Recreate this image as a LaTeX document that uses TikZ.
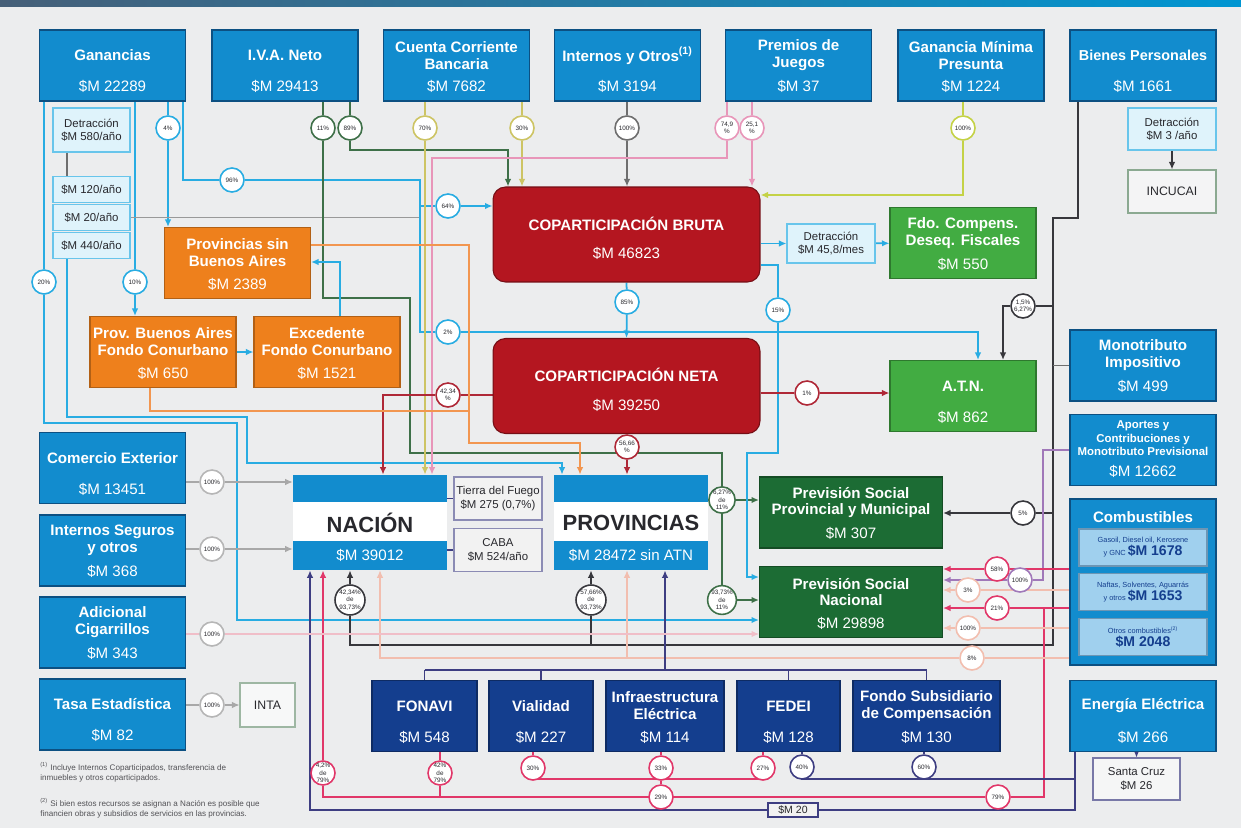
\documentclass[tikz,border=0pt]{standalone}
\usepackage{fontspec}
\setmainfont{Liberation Sans}
\usetikzlibrary{calc, positioning, arrows.meta, backgrounds}

\definecolor{srcblue}{RGB}{18,140,206}
\definecolor{srcedge}{RGB}{12,80,130}
\definecolor{subblue}{RGB}{160,208,238}
\definecolor{cobred}{RGB}{180,22,32}
\definecolor{fondor}{RGB}{238,128,28}
\definecolor{ltgreen}{RGB}{66,172,66}
\definecolor{dkgreen}{RGB}{28,108,52}
\definecolor{navy}{RGB}{20,62,142}
\definecolor{bg}{RGB}{236,237,238}
\definecolor{lnblue}{RGB}{40,172,226}
\definecolor{lngreen}{RGB}{62,112,72}
\definecolor{lnkhaki}{RGB}{205,196,100}
\definecolor{lnpink}{RGB}{232,150,185}
\definecolor{lngray}{RGB}{110,110,110}
\definecolor{lnlime}{RGB}{196,210,70}
\definecolor{lnred}{RGB}{175,40,55}
\definecolor{lnorange}{RGB}{242,150,80}
\definecolor{lndark}{RGB}{55,55,60}
\definecolor{lnmag}{RGB}{225,55,105}
\definecolor{lnlav}{RGB}{160,120,185}
\definecolor{lnnavy}{RGB}{62,62,130}
\definecolor{lnpeach}{RGB}{242,190,175}
\definecolor{lnrose}{RGB}{240,190,200}
\definecolor{txtdark}{RGB}{40,40,45}
\definecolor{hdrA}{RGB}{70,95,120}
\definecolor{hdrB}{RGB}{0,150,210}

\newcommand{\fsz}[2]{\fontsize{#1}{#2}\selectfont}

\begin{document}
\begin{tikzpicture}[x=0.02cm, y=-0.02cm,
    >={Latex[length=1.5mm, width=1.3mm]},
    basebox/.style={rectangle, minimum width=29.2mm, minimum height=14.2mm, inner sep=0pt, line width=0.6pt},
    src/.style ={basebox, fill=srcblue, draw=srcedge},
    cobox/.style={basebox, fill=cobred, draw=cobred!65!black, rounded corners=2.5mm, minimum width=53.4mm, minimum height=19mm},
    orng/.style={basebox, fill=fondor, draw=fondor!75!black},
    grn/.style ={basebox, fill=ltgreen, draw=ltgreen!70!black},
    dgrn/.style={basebox, fill=dkgreen, draw=dkgreen!70!black, minimum width=36.6mm},
    nvy/.style ={basebox, fill=navy, draw=navy!70!black, minimum width=21mm},
    flag/.style={rectangle, fill=white, minimum width=30.8mm, minimum height=19mm, inner sep=0pt,
      font=\bfseries\fsz{12.5}{13}, text=txtdark,
      path picture={
        \fill[srcblue] (path picture bounding box.north west) rectangle ([yshift=-5.4mm]path picture bounding box.north east);
        \fill[srcblue] (path picture bounding box.south west) rectangle ([yshift=5.8mm]path picture bounding box.south east);}},
    sub/.style ={rectangle, fill=subblue, draw=srcedge!60, line width=0.6pt, minimum width=25.6mm, minimum height=7.4mm,
      inner sep=0pt, text=navy, align=center, font=\fsz{4.2}{5}},
    note/.style={rectangle, draw=lnblue!70, fill=white!85!lnblue, line width=0.6pt, text=txtdark, font=\fsz{6.5}{7.6},
      align=center, minimum width=17.6mm, minimum height=8.6mm, inner sep=0pt},
    foot/.style={anchor=north west, text=txtdark!80, font=\fsz{4.6}{6.2}, align=left, inner sep=0pt},
    ttl/.style ={anchor=center, yshift=-5.2mm, text=white, font=\bfseries\fsz{8.6}{9.6}, align=center},
    amt/.style ={anchor=center, yshift=3mm, text=white, font=\fsz{8.6}{9.6}},
    pct/.style ={circle, draw=#1, fill=white, line width=0.9pt, minimum size=4.8mm, inner sep=0pt,
      font=\fsz{3.6}{4.2}, text=txtdark, align=center},
    ln/.style  ={draw=#1, line width=1pt},
    fine/.style={draw=#1, line width=0.6pt}
  ]
  \useasboundingbox (0,0) rectangle (1241,828);

  % sources, top row
  \node[src, label={[ttl]above:Ganancias}, label={[amt]below:\$M 22289}] (gan) at (112.5,65.5) {};
  \node[src, label={[ttl]above:I.V.A. Neto}, label={[amt]below:\$M 29413}] (iva) at (285,65.5) {};
  \node[src, label={[ttl]above:{Cuenta Corriente\\Bancaria}}, label={[amt]below:\$M 7682}] (ccb) at (456.5,65.5) {};
  \node[src, label={[ttl]above:{Internos y Otros\textsuperscript{(1)}}}, label={[amt]below:\$M 3194}] (int) at (627.5,65.5) {};
  \node[src, label={[ttl]above:{Premios de\\Juegos}}, label={[amt]below:\$M 37}] (pre) at (798.5,65.5) {};
  \node[src, label={[ttl]above:{Ganancia Mínima\\Presunta}}, label={[amt]below:\$M 1224}] (gmp) at (971,65.5) {};
  \node[src, label={[ttl, font=\bfseries\fsz{8.2}{9.6}]above:Bienes Personales}, label={[amt]below:\$M 1661}] (bie) at (1143,65.5) {};

  % detracciones de Ganancias
  \node[note, minimum width=15.4mm, minimum height=8.8mm] (d580) at (91.5,130) {Detracción\\\$M 580/año};
  \node[note, minimum width=15.4mm, minimum height=5.2mm, line width=1pt] (d120) at (91.5,189.5) {\$M 120/año};
  \node[note, minimum width=15.4mm, minimum height=5.2mm, line width=1pt] (d20) at (91.5,217.5) {\$M 20/año};
  \node[note, minimum width=15.4mm, minimum height=5.2mm, line width=1pt] (d440) at (91.5,245.5) {\$M 440/año};

  % fondos naranja
  \node[orng, label={[ttl]above:{Provincias sin\\Buenos Aires}}, label={[amt]below:\$M 2389}] (psb) at (237.5,263) {};
  \node[orng, label={[ttl]above:{Prov. Buenos Aires\\Fondo Conurbano}}, label={[amt]below:\$M 650}] (pba) at (163,352) {};
  \node[orng, label={[ttl]above:{Excedente\\Fondo Conurbano}}, label={[amt]below:\$M 1521}] (exc) at (327,352) {};

  % coparticipacion
  \node[cobox, label={[ttl, yshift=-2.2mm]above:COPARTICIPACIÓN BRUTA}, label={[amt, yshift=2.8mm]below:\$M 46823}] (cb) at (626.5,234.5) {};
  \node[cobox, label={[ttl, yshift=-2.2mm]above:COPARTICIPACIÓN NETA}, label={[amt, yshift=2.8mm]below:\$M 39250}] (cn) at (626.5,386) {};
  \node[note, minimum height=7.8mm] (dcb) at (831,243.5) {Detracción\\\$M 45,8/mes};
  \node[grn, label={[ttl]above:{Fdo. Compens.\\Deseq. Fiscales}}, label={[amt]below:\$M 550}] (fdo) at (963,243) {};
  \node[grn, label={[ttl]above:A.T.N.}, label={[amt]below:\$M 862}] (atn) at (963,396) {};
  \node[note, minimum height=8.4mm] (dbp) at (1172,129) {Detracción\\\$M 3 /año};
  \node[note, draw=lngreen!60, fill=bg!60!white, font=\fsz{7}{8}] (incucai) at (1172,191.5) {INCUCAI};

  % right column
  \node[src, label={[ttl]above:{Monotributo\\Impositivo}}, label={[amt]below:\$M 499}] (mono) at (1143,365.5) {};
  \node[src, label={[ttl, yshift=0.3mm, font=\bfseries\fsz{6.5}{7.6}]above:{Aportes y\\Contribuciones y\\Monotributo Previsional}},
    label={[amt]below:\$M 12662}] (apor) at (1143,450) {};
  \node[src, minimum height=33.2mm, label={[ttl, yshift=1.4mm]above:Combustibles}] (comb) at (1143,582) {};
  \node[sub] (gas) at (1143,547.5) {Gasoil, Diesel oil, Kerosene\\y GNC {\bfseries\fsz{8}{8}\$M 1678}};
  \node[sub] (naf) at (1143,592) {Naftas, Solventes, Aguarrás\\y otros {\bfseries\fsz{8}{8}\$M 1653}};
  \node[sub] (otc) at (1143,637) {Otros combustibles\textsuperscript{(2)}\\{\bfseries\fsz{8}{8}\$M 2048}};
  \node[src, label={[ttl]above:Energía Eléctrica}, label={[amt]below:\$M 266}] (ene) at (1143,716) {};
  \node[note, draw=lnnavy!70, fill=bg!50!white, minimum width=17.4mm, minimum height=8.4mm] (scz) at (1136.5,779) {Santa Cruz\\\$M 26};

  % left column
  \node[src, label={[ttl]above:Comercio Exterior}, label={[amt]below:\$M 13451}] (com) at (112.5,468) {};
  \node[src, label={[ttl]above:{Internos Seguros\\y otros}}, label={[amt]below:\$M 368}] (ins) at (112.5,550.5) {};
  \node[src, label={[ttl]above:{Adicional\\Cigarrillos}}, label={[amt]below:\$M 343}] (cig) at (112.5,632.5) {};
  \node[src, label={[ttl]above:Tasa Estadística}, label={[amt]below:\$M 82}] (tas) at (112.5,714.5) {};
  \node[note, draw=lngreen!50, fill=bg!40!white, minimum width=11mm, minimum height=8.8mm, font=\fsz{7}{8}] (inta) at (267.5,705) {INTA};

  % destinos
  \node[flag, label={[amt]below:\$M 39012}] (nac) at (370,522.5) {NACIÓN};
  \node[flag, label={[amt]below:\$M 28472 sin ATN}] (prov) at (631,522.5) {PROVINCIAS};
  \node[note, draw=lnnavy!60, fill=white!90!gray] (tdf) at (498,498.5) {Tierra del Fuego\\\$M 275 (0,7\%)};
  \node[note, draw=lnnavy!60, fill=white!90!gray] (caba) at (498,550) {CABA\\\$M 524/año};
  \node[dgrn, label={[ttl]above:{Previsión Social\\Provincial y Municipal}}, label={[amt]below:\$M 307}] (pspm) at (851,512.5) {};
  \node[dgrn, label={[ttl]above:{Previsión Social\\Nacional}}, label={[amt]below:\$M 29898}] (psn) at (851,602) {};

  % fondos especificos
  \node[nvy, label={[ttl]above:FONAVI}, label={[amt]below:\$M 548}] (fon) at (424.5,716) {};
  \node[nvy, minimum width=20.8mm, label={[ttl]above:Vialidad}, label={[amt]below:\$M 227}] (via) at (541,716) {};
  \node[nvy, minimum width=23.6mm, label={[ttl]above:{Infraestructura\\Eléctrica}}, label={[amt]below:\$M 114}] (inf) at (665,716) {};
  \node[nvy, minimum width=20.6mm, label={[ttl]above:FEDEI}, label={[amt]below:\$M 128}] (fed) at (788.5,716) {};
  \node[nvy, minimum width=29.4mm, label={[ttl]above:{Fondo Subsidiario\\de Compensación}}, label={[amt]below:\$M 130}] (fsc) at (926.5,716) {};
  \node[note, draw=lnnavy, fill=white!90!gray, minimum width=10mm, minimum height=2.8mm, font=\fsz{6}{6}] (m20) at (793,810) {\$M 20};

  \node[foot] (fn1) at (40,762) {\textsuperscript{(1)} Incluye Internos Coparticipados, transferencia de\\inmuebles y otros coparticipados.};
  \node[foot] (fn2) at (40,798) {\textsuperscript{(2)} Si bien estos recursos se asignan a Nación es posible que\\financien obras y subsidios de servicios en las provincias.};

  % porcentajes
  \node[pct=lnblue] (g20) at (44,282) {20\%};
  \node[pct=lnblue] (g10) at (135,282) {10\%};
  \node[pct=lnblue] (g4) at (168,128) {4\%};
  \node[pct=lnblue] (g96) at (232,180) {96\%};
  \node[pct=lnblue] (g64) at (448,206) {64\%};
  \node[pct=lnblue] (g2) at (448,332) {2\%};
  \node[pct=lngreen] (i11) at (323,128) {11\%};
  \node[pct=lngreen] (i89) at (350,128) {89\%};
  \node[pct=lnkhaki] (c70) at (425,128) {70\%};
  \node[pct=lnkhaki] (c30) at (522,128) {30\%};
  \node[pct=lngray] (i100) at (627,128) {100\%};
  \node[pct=lnpink] (p1) at (727,128) {74,9\\\%};
  \node[pct=lnpink] (p2) at (752,128) {25,1\\\%};
  \node[pct=lnlime] (m100) at (963,128) {100\%};
  \node[pct=lnblue] (c85) at (627,302) {85\%};
  \node[pct=lnblue] (c15) at (778,310) {15\%};
  \node[pct=lnred] (n1) at (807,393) {1\%};
  \node[pct=lnred] (nn) at (448,395) {42,34\\\%};
  \node[pct=lnred] (np) at (627,447) {56,66\\\%};
  \node[pct=lngreen] (ia) at (722,500) {6,27\%\\de\\11\%};
  \node[pct=lngreen] (ib) at (722,600) {93,73\%\\de\\11\%};
  \node[pct=lndark] (bat) at (1023,306) {1,5\%\\6,27\%};
  \node[pct=lndark] (bps) at (1023,513) {5\%};
  \node[pct=lndark, minimum size=6mm] (b1) at (350,600) {42,34\%\\de\\93,73\%};
  \node[pct=lndark, minimum size=6mm] (b2) at (591,600) {57,66\%\\de\\93,73\%};
  \node[pct=lnlav] (apc) at (1020,580) {100\%};
  \node[pct=lnmag] (cgas) at (997,569) {58\%};
  \node[pct=lnmag] (cnaf) at (997,608) {21\%};
  \node[pct=lnmag] (c79) at (998,797) {79\%};
  \node[pct=lnmag] (cnac) at (323,773) {4,2\%\\de\\79\%};
  \node[pct=lnmag] (cfon) at (440,773) {42\%\\de\\79\%};
  \node[pct=lnmag] (cvia) at (533,768) {30\%};
  \node[pct=lnmag] (cinf) at (661,768) {33\%};
  \node[pct=lnmag] (cinf2) at (661,797) {29\%};
  \node[pct=lnmag] (cfed) at (763,768) {27\%};
  \node[pct=lnnavy] (cfed2) at (802,767) {40\%};
  \node[pct=lnnavy] (cfsc) at (924,767) {60\%};
  \node[pct=lnpeach] (o1) at (968,590) {3\%};
  \node[pct=lnpeach] (o2) at (968,628) {100\%};
  \node[pct=lnpeach] (o3) at (972,658) {8\%};
  \node[pct=lngray!50] (lc1) at (212,482) {100\%};
  \node[pct=lngray!50] (lc2) at (212,549) {100\%};
  \node[pct=lngray!50] (lc3) at (212,634) {100\%};
  \node[pct=lngray!50] (lc4) at (212,705) {100\%};

  \begin{scope}[on background layer]
    \fill[bg] (0,0) rectangle (1241,828);
    \fill[left color=hdrA, right color=hdrB] (0,0) rectangle (1241,7);

    % Ganancias
    \draw[ln=lnblue] (gan.south -| g20) -- (g20);
    \draw[ln=lnblue, ->] (g20) -- (44,423) -- (237,423) -- (237,620) -- (psn.west |- 0,620);
    \draw[fine=lngray] (d580.south -| 67,0) -- (d120.north -| 67,0);
    \draw[ln=lnblue, ->] (d440.south -| 67,0) -- (67,417) -- (247,417) -- (247,463) -- (562,463) -- (prov.north -| 562,0);
    \draw[ln=lnblue] (gan.south -| g10) -- (g10);
    \draw[ln=lnblue, ->] (g10) -- (pba.north -| g10);
    \draw[ln=lnblue] (gan.south -| g4) -- (g4);
    \draw[ln=lnblue, ->] (g4) -- (psb.north -| g4);
    \draw[fine=lngray!70] (d20.east) -- (420,217.5);
    \draw[ln=lnblue] (gan.south -| 183,0) |- (g96);
    \draw[ln=lnblue] (g96) -- (420,180) -- (420,332) -- (g2);
    \draw[ln=lnblue] (420,206) -- (g64);
    \draw[ln=lnblue, ->] (g64) -- (cb.west |- g64);
    \draw[ln=lnblue, ->] (g2) -- (978,332) -- (atn.north -| 978,0);

    % IVA
    \draw[ln=lngreen] (iva.south -| i11) -- (i11);
    \draw[ln=lngreen] (i11) -- (323,298) -- (410,298) -- (410,453) -- (722,453) -- (ia);
    \draw[ln=lngreen] (ia) -- (ib);
    \draw[ln=lngreen, ->] (ia) -- (pspm.west |- ia);
    \draw[ln=lngreen, ->] (ib) -- (psn.west |- ib);
    \draw[ln=lngreen] (iva.south -| i89) -- (i89);
    \draw[ln=lngreen, ->] (i89) |- (508,150) -- (cb.north -| 508,0);

    % Cuenta corriente, internos, premios, GMP
    \draw[ln=lnkhaki] (ccb.south -| c70) -- (c70);
    \draw[ln=lnkhaki, ->] (c70) -- (nac.north -| c70);
    \draw[ln=lnkhaki] (ccb.south -| c30) -- (c30);
    \draw[ln=lnkhaki, ->] (c30) -- (cb.north -| c30);
    \draw[ln=lngray] (int.south -| i100) -- (i100);
    \draw[ln=lngray, ->] (i100) -- (cb.north -| i100);
    \draw[ln=lnpink] (pre.south -| p1) -- (p1);
    \draw[ln=lnpink, ->] (p1) |- (432,158) -- (nac.north -| 432,0);
    \draw[ln=lnpink] (pre.south -| p2) -- (p2);
    \draw[ln=lnpink, ->] (p2) -- (cb.north -| p2);
    \draw[ln=lnlime] (gmp.south -| m100) -- (m100);
    \draw[ln=lnlime, ->] (m100) |- (cb.east |- 0,195);

    % Bienes Personales
    \draw[ln=lndark] (bie.south -| 1078,0) -- (1078,218) -- (1053,218) -- (1053,645) -- (350,645) -- (b1);
    \draw[ln=lndark, ->] (b1) -- (nac.south -| b1);
    \draw[ln=lndark] (591,645) -- (b2);
    \draw[ln=lndark, ->] (b2) -- (prov.south -| b2);
    \draw[ln=lndark] (1053,306) -- (bat);
    \draw[ln=lndark, ->] (bat) -| (atn.north -| 1003,0);
    \draw[ln=lndark] (1053,513) -- (bps);
    \draw[ln=lndark, ->] (bps) -- (pspm.east |- bps);
    \draw[ln=lndark, ->] (dbp) -- (incucai);
    \draw[fine=lngray] (mono.west) -- (mono.west -| 1053,0);

    % Aportes y combustibles
    \draw[ln=lnlav] (apor.west) -- (1043,450) -- (1043,580) -- (apc);
    \draw[ln=lnlav, ->] (apc) -- (psn.east |- apc);
    \draw[ln=lnmag] (comb.west |- cgas) -- (cgas);
    \draw[ln=lnmag, ->] (cgas) -- (psn.east |- cgas);
    \draw[ln=lnmag] (comb.west |- cnaf) -- (cnaf);
    \draw[ln=lnmag, ->] (cnaf) -- (psn.east |- cnaf);
    \draw[ln=lnmag] (1044,608) -- (1044,797) -- (c79);
    \draw[ln=lnmag] (c79) -- (323,797) -- (cnac);
    \draw[ln=lnmag, ->] (cnac) -- (nac.south -| cnac);
    \draw[ln=lnmag] (440,797) -- (cfon) -- (fon.south -| cfon);
    \draw[ln=lnmag] (cinf2) -- (cinf);
    \draw[ln=lnmag] (533,779) -- (763,779);
    \draw[ln=lnmag] (cvia) -- (via.south -| cvia);
    \draw[ln=lnmag] (cinf) -- (inf.south -| cinf);
    \draw[ln=lnmag] (cfed) -- (fed.south -| cfed);
    \draw[fine=lnpeach] (comb.west |- o1) -- (o1);
    \draw[fine=lnpeach, ->] (o1) -- (psn.east |- o1);
    \draw[fine=lnpeach] (comb.west |- o2) -- (o2);
    \draw[fine=lnpeach, ->] (o2) -- (psn.east |- o2);
    \draw[fine=lnpeach] (comb.west |- o3) -- (o3);
    \draw[fine=lnpeach, ->] (o3) -- (380,658) -- (nac.south -| 380,0);
    \draw[fine=lnpeach, ->] (627,658) -- (prov.south -| 627,0);

    % Energia electrica
    \draw[ln=lnnavy] (ene.south -| 1075,0) |- (m20.east);
    \draw[ln=lnnavy, ->] (m20.west) -| (nac.south -| 310,0);
    \draw[ln=lnnavy] (1075,779) -- (802,779) -- (cfed2);
    \draw[ln=lnnavy] (cfed2) -- (fed.south -| cfed2);
    \draw[ln=lnnavy] (cfsc) -- (fsc.south -| cfsc);
    \draw[fine=lnnavy, ->] (ene.south -| scz) -- (scz.north);

    % Coparticipacion
    \draw[ln=lnblue, ->] (cb.east |- dcb) -- (dcb.west);
    \draw[ln=lnblue, ->] (dcb) -- (fdo);
    \draw[ln=lnblue] (cb.south) -- (c85);
    \draw[ln=lnblue, ->] (c85) -- (cn.north);
    \draw[ln=lnblue] (cb.east |- 0,265) -| (c15);
    \draw[ln=lnblue, ->] (c15) -- (778,453) -- (747,453) -- (747,577) -- (psn.west |- 0,577);
    \draw[ln=lnred] (cn.east |- n1) -- (n1);
    \draw[ln=lnred, ->] (n1) -- (atn.west |- n1);
    \draw[ln=lnred] (cn.west |- nn) -- (nn);
    \draw[ln=lnred, ->] (nn) -| (nac.north -| 383,0);
    \draw[ln=lnred] (cn.south) -- (np);
    \draw[ln=lnred, ->] (np) -- (prov.north -| np);

    % Conurbano
    \draw[ln=lnorange] (pba.south -| 150,0) |- (469,411);
    \draw[ln=lnorange, ->] (psb.east |- 0,245) -| (469,443) -| (prov.north -| 580,0);
    \draw[ln=lnblue, ->] (pba) -- (exc);
    \draw[ln=lnblue, ->] (exc.north -| 340,0) |- (psb.east |- 0,262);

    % fondos a provincias
    \draw[ln=lnnavy] (fon.north |- 0,670) -- (fsc.north |- 0,670);
    \draw[ln=lnnavy, ->] (inf.north |- 0,670) -- (prov.south -| inf.north);
    \foreach \bx in {fon,via,fed,fsc}
      \draw[fine=lnnavy] (\bx.north |- 0,670) -- (\bx.north);

    % otros recursos
    \draw[fine=lngray!60] (com.east |- lc1) -- (lc1);
    \draw[fine=lngray!60, ->] (lc1) -- (nac.west |- lc1);
    \draw[fine=lngray!60] (ins.east |- lc2) -- (lc2);
    \draw[fine=lngray!60, ->] (lc2) -- (nac.west |- lc2);
    \draw[fine=lnrose] (cig.east |- lc3) -- (lc3);
    \draw[fine=lnrose, ->] (lc3) -- (psn.west |- lc3);
    \draw[fine=lngray!60] (tas.east |- lc4) -- (lc4);
    \draw[fine=lngray!60, ->] (lc4) -- (inta);
    \draw[fine=lnnavy] (nac.east |- tdf) -- (tdf.west);
    \draw[fine=lnnavy] (nac.east |- caba) -- (caba.west);
  \end{scope}
\end{tikzpicture}
\end{document}
